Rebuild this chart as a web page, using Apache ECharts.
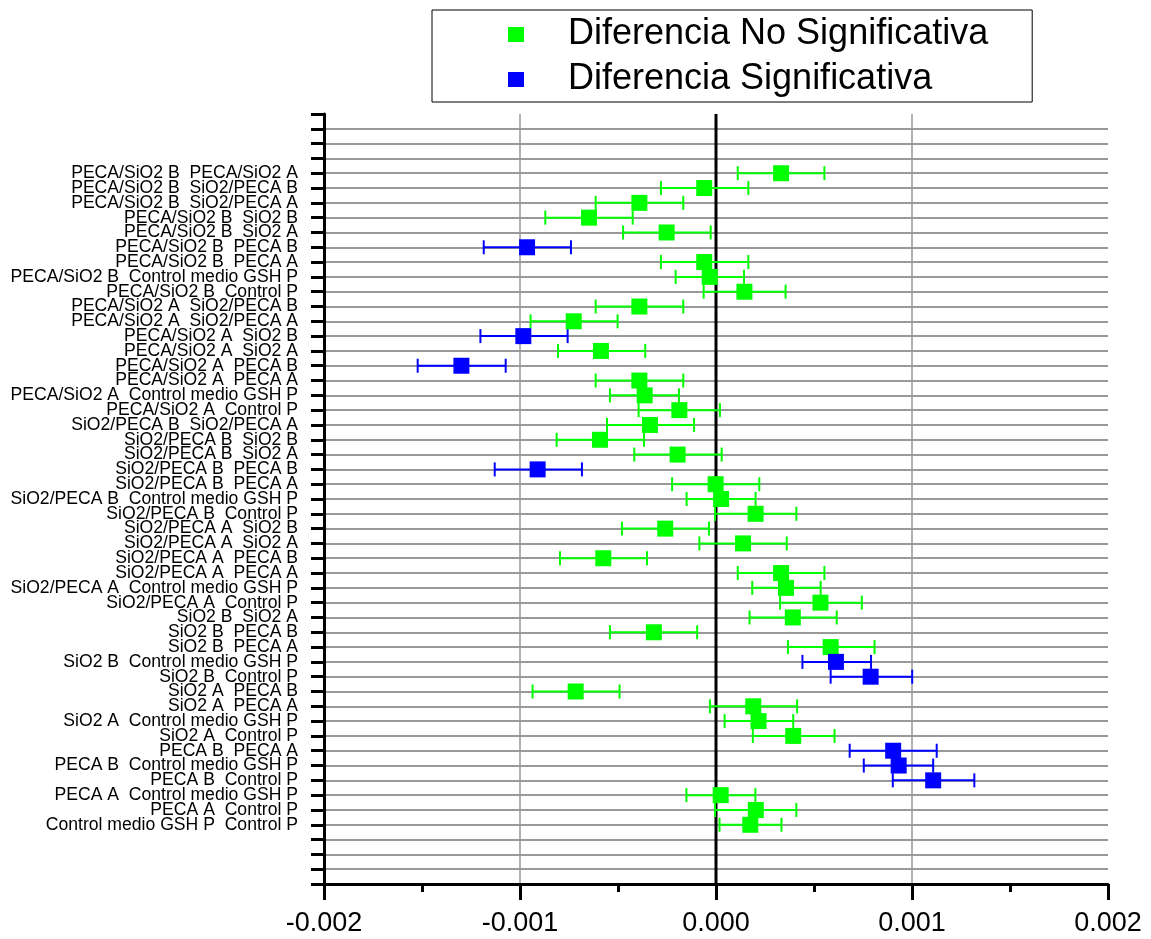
<!DOCTYPE html>
<html>
<head>
<meta charset="utf-8">
<script src="https://cdn.jsdelivr.net/npm/echarts@6/dist/echarts.min.js"></script>
<style>
html,body{margin:0;padding:0;background:#fff;}
#chart{width:1151px;height:939px;}
</style>
</head>
<body>
<div id="chart"></div>
<script>
const categories = [
  "PECA/SiO2 B  PECA/SiO2 A","PECA/SiO2 B  SiO2/PECA B","PECA/SiO2 B  SiO2/PECA A","PECA/SiO2 B  SiO2 B",
  "PECA/SiO2 B  SiO2 A","PECA/SiO2 B  PECA B","PECA/SiO2 B  PECA A","PECA/SiO2 B  Control medio GSH P",
  "PECA/SiO2 B  Control P","PECA/SiO2 A  SiO2/PECA B","PECA/SiO2 A  SiO2/PECA A","PECA/SiO2 A  SiO2 B",
  "PECA/SiO2 A  SiO2 A","PECA/SiO2 A  PECA B","PECA/SiO2 A  PECA A","PECA/SiO2 A  Control medio GSH P",
  "PECA/SiO2 A  Control P","SiO2/PECA B  SiO2/PECA A","SiO2/PECA B  SiO2 B","SiO2/PECA B  SiO2 A",
  "SiO2/PECA B  PECA B","SiO2/PECA B  PECA A","SiO2/PECA B  Control medio GSH P","SiO2/PECA B  Control P",
  "SiO2/PECA A  SiO2 B","SiO2/PECA A  SiO2 A","SiO2/PECA A  PECA B","SiO2/PECA A  PECA A",
  "SiO2/PECA A  Control medio GSH P","SiO2/PECA A  Control P","SiO2 B  SiO2 A","SiO2 B  PECA B",
  "SiO2 B  PECA A","SiO2 B  Control medio GSH P","SiO2 B  Control P","SiO2 A  PECA B",
  "SiO2 A  PECA A","SiO2 A  Control medio GSH P","SiO2 A  Control P","PECA B  PECA A",
  "PECA B  Control medio GSH P","PECA B  Control P","PECA A  Control medio GSH P","PECA A  Control P",
  "Control medio GSH P  Control P"
];
const means = [
  0.000332,-0.000060,-0.000391,-0.000648,-0.000252,-0.000964,-0.000060,-0.000032,0.000145,-0.000391,
  -0.000726,-0.000983,-0.000587,-0.001299,-0.000391,-0.000364,-0.000187,-0.000337,-0.000592,-0.000196,
  -0.000910,-0.000002,0.000026,0.000202,-0.000259,0.000138,-0.000575,0.000332,0.000357,0.000533,
  0.000392,-0.000317,0.000585,0.000612,0.000789,-0.000716,0.000190,0.000217,0.000394,0.000904,
  0.000932,0.001108,0.000024,0.000203,0.000175
];
const lower = [
  0.000111,-0.000281,-0.000614,-0.000871,-0.000474,-0.001185,-0.000281,-0.000206,-0.000063,-0.000614,
  -0.000946,-0.001202,-0.000806,-0.001522,-0.000614,-0.000541,-0.000395,-0.000556,-0.000813,-0.000417,
  -0.001129,-0.000224,-0.000150,-0.000005,-0.000480,-0.000085,-0.000796,0.000111,0.000185,0.000327,
  0.000171,-0.000541,0.000367,0.000441,0.000585,-0.000936,-0.000031,0.000044,0.000188,0.000682,
  0.000754,0.000902,-0.000151,-0.000005,0.000018
];
const upper = [
  0.000553,0.000165,-0.000167,-0.000425,-0.000027,-0.000740,0.000165,0.000143,0.000355,-0.000167,
  -0.000502,-0.000757,-0.000361,-0.001073,-0.000167,-0.000189,0.000020,-0.000112,-0.000367,0.000029,
  -0.000684,0.000221,0.000202,0.000410,-0.000036,0.000361,-0.000352,0.000553,0.000534,0.000744,
  0.000616,-0.000096,0.000809,0.000791,0.001001,-0.000492,0.000414,0.000394,0.000605,0.001126,
  0.001108,0.001318,0.000201,0.000410,0.000334
];
const significant = [
  0,0,0,0,0,1,0,0,0,0, 0,1,0,1,0,0,0,0,0,0, 1,0,0,0,0,0,0,0,0,0, 0,0,0,1,1,0,0,0,0,1, 1,1,0,0,0
];
const xTicks = [-0.002, -0.001, 0, 0.001, 0.002];
const seriesNames = ["Diferencia No Significativa", "Diferencia Significativa"];
const seriesColors = ["#00ff00", "#0000ff"];

// y-axis rows: 4 empty rows above and below the data
const blankRows = ["", "", "", ""];
const yCats = blankRows.concat(categories).concat(blankRows);
const offset = blankRows.length;

function pts(flag) {
  const out = [];
  categories.forEach((c, i) => { if (significant[i] === flag) out.push([means[i], i + offset]); });
  return out;
}
function bars(flag) {
  const out = [];
  categories.forEach((c, i) => { if (significant[i] === flag) out.push([lower[i], upper[i], i + offset]); });
  return out;
}
function renderErr(color) {
  return function (params, api) {
    const yi = api.value(2);
    const a = api.coord([api.value(0), yi]);
    const b = api.coord([api.value(1), yi]);
    const h = 7;
    const st = { stroke: color, lineWidth: 2 };
    return {
      type: 'group',
      children: [
        { type: 'line', shape: { x1: a[0], y1: a[1], x2: b[0], y2: b[1] }, style: st },
        { type: 'line', shape: { x1: a[0], y1: a[1] - h, x2: a[0], y2: a[1] + h }, style: st },
        { type: 'line', shape: { x1: b[0], y1: b[1] - h, x2: b[0], y2: b[1] + h }, style: st }
      ]
    };
  };
}
function renderZero(params, api) {
  const cs = params.coordSys;
  const p = api.coord([api.value(0), api.value(1)]);
  return {
    type: 'line',
    shape: { x1: p[0], y1: cs.y, x2: p[0], y2: cs.y + cs.height },
    style: { stroke: '#000', lineWidth: 3 }
  };
}

const chart = echarts.init(document.getElementById('chart'), null, { renderer: 'canvas' });
const font = "'Liberation Sans', Arial, sans-serif";
chart.setOption({
  animation: false,
  backgroundColor: '#ffffff',
  textStyle: { fontFamily: font },
  legend: {
    data: seriesNames,
    orient: 'vertical',
    left: 432,
    top: 10,
    padding: [6, 44, 4, 76],
    itemGap: 8,
    itemWidth: 16,
    itemHeight: 15,
    borderColor: '#000',
    borderWidth: 1,
    icon: 'rect',
    textStyle: { fontSize: 36, color: '#000', fontFamily: font, padding: [0, 0, 0, 39], lineHeight: 37 }
  },
  grid: { left: 324, right: 43, top: 114, bottom: 55, containLabel: false },
  xAxis: {
    type: 'value',
    min: xTicks[0],
    max: xTicks[xTicks.length - 1],
    interval: 0.001,
    axisLine: { show: true, onZero: false, lineStyle: { color: '#000', width: 3 } },
    axisTick: { show: true, inside: false, length: 16, lineStyle: { color: '#000', width: 3 } },
    minorTick: { show: true, splitNumber: 2, length: 8, lineStyle: { color: '#000', width: 3 } },
    axisLabel: { fontSize: 27, color: '#000', margin: 26, fontFamily: font,
      formatter: v => v.toFixed(3) },
    splitLine: { show: true, showMinLine: false, showMaxLine: false, lineStyle: { color: '#999', width: 1.5 } }
  },
  yAxis: {
    type: 'category',
    data: yCats,
    inverse: true,
    boundaryGap: false,
    axisLine: { show: true, onZero: false, lineStyle: { color: '#000', width: 3 } },
    axisTick: { show: true, inside: false, length: 13, interval: 0, lineStyle: { color: '#000', width: 3 } },
    axisLabel: { show: true, interval: 0, fontSize: 17.6, color: '#000', margin: 26, fontFamily: font },
    splitLine: { show: true, interval: 0, showMinLine: false, lineStyle: { color: '#999', width: 2 } }
  },
  series: [
    {
      name: 'zero', type: 'custom', renderItem: renderZero,
      encode: { x: 0, y: 1 }, data: [[0, 0]], z: 2, silent: true
    },
    {
      name: 'err0', type: 'custom', renderItem: renderErr(seriesColors[0]),
      encode: { x: [0, 1], y: 2 }, data: bars(0), z: 3
    },
    {
      name: 'err1', type: 'custom', renderItem: renderErr(seriesColors[1]),
      encode: { x: [0, 1], y: 2 }, data: bars(1), z: 3
    },
    {
      name: seriesNames[0], type: 'scatter', symbol: 'rect', symbolSize: 16,
      itemStyle: { color: seriesColors[0], opacity: 1 }, data: pts(0), z: 4
    },
    {
      name: seriesNames[1], type: 'scatter', symbol: 'rect', symbolSize: 16,
      itemStyle: { color: seriesColors[1], opacity: 1 }, data: pts(1), z: 4
    }
  ]
});
</script>
</body>
</html>
